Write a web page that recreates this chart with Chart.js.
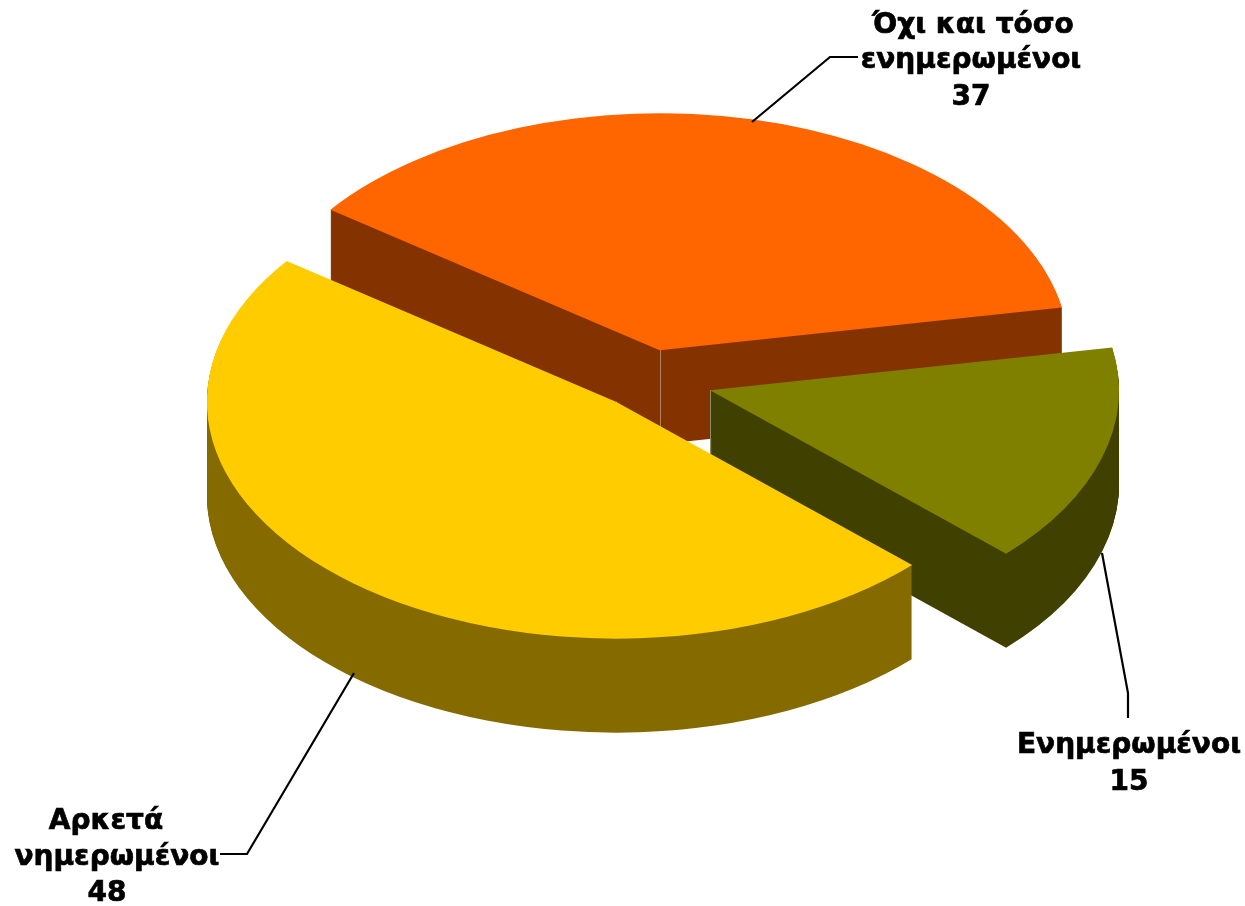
<!DOCTYPE html>
<html lang="el">
<head>
<meta charset="utf-8">
<title>Ενημέρωση</title>
<script src="https://cdn.jsdelivr.net/npm/chart.js@4"></script>
<style>
  html, body { margin: 0; padding: 0; background: #fff; }
  canvas { display: block; }
</style>
</head>
<body>
<canvas id="pie" width="1245" height="906"></canvas>
<script>
// ── Data ───────────────────────────────────────────────
const categories = ['Όχι και τόσο ενημερωμένοι', 'Ενημερωμένοι', 'Αρκετά νημερωμένοι'];
const values = [37, 15, 48];

// ── Style ──────────────────────────────────────────────
const topColors = ['#FF6600', '#808000', '#FFCC00'];
const sideColors = ['#833200', '#404000', '#856A00'];
const edgeColors = ['#B5805F', '#8C8C66', '#B8A050'];
const explode = [0.1265, 0.158, 0.122];   // fraction of the radius

const PIE = { cx: 648, cy: 379.5, radius: 409, squash: 237 / 409, depth: 94 };
const LABEL_FONT = 'bold 28px "DejaVu Sans", Verdana, sans-serif';

const labelLines = [
  ['Όχι και τόσο', 'ενημερωμένοι', String(values[0])],
  ['Ενημερωμένοι', String(values[1])],
  ['Αρκετά', 'νημερωμένοι', String(values[2])],
];
// x centre and y centre of each text line
const labelSpots = [
  [[973, 26], [971, 61], [971, 98]],
  [[1129, 746], [1129, 783]],
  [[106, 822], [117, 858], [107, 894]],
];
const leaders = [
  [[752, 122], [830, 57], [858, 57]],
  [[1102, 553], [1128, 693], [1128, 718]],
  [[354, 673], [247, 854], [220, 854]],
];

function drawSlice(ctx, arc, i, color, drop) {
  const mid = (arc.startAngle + arc.endAngle) / 2;
  const saved = arc.options;
  arc.options = { ...saved, backgroundColor: color, borderColor: color, borderWidth: 0 };
  ctx.save();
  ctx.translate(PIE.cx, PIE.cy + drop);
  ctx.scale(1, PIE.squash);
  ctx.translate(Math.cos(mid) * explode[i] * PIE.radius - arc.x, Math.sin(mid) * explode[i] * PIE.radius - arc.y);
  arc.draw(ctx);
  ctx.restore();
  arc.options = saved;
}

// Side walls: stack the slice on a scratch canvas, then flood it with one colour
// so the stacked antialiased edges don't leave stripes
function drawWalls(ctx, arc, i) {
  const scratch = document.createElement('canvas');
  scratch.width = ctx.canvas.width;
  scratch.height = ctx.canvas.height;
  const sc = scratch.getContext('2d');
  for (let d = PIE.depth; d > 0; d--) drawSlice(sc, arc, i, sideColors[i], d);
  sc.globalCompositeOperation = 'source-in';
  sc.fillStyle = sideColors[i];
  sc.fillRect(0, 0, scratch.width, scratch.height);
  ctx.drawImage(scratch, 0, 0);
}

// Thin light line down the corner where the two cut faces meet
function drawCorner(ctx, arc, i) {
  const mid = (arc.startAngle + arc.endAngle) / 2;
  const x = PIE.cx + Math.cos(mid) * explode[i] * PIE.radius;
  const y = PIE.cy + Math.sin(mid) * explode[i] * PIE.radius * PIE.squash;
  ctx.save();
  ctx.strokeStyle = edgeColors[i];
  ctx.lineWidth = 1;
  ctx.beginPath();
  ctx.moveTo(Math.round(x) + 0.5, y);
  ctx.lineTo(Math.round(x) + 0.5, y + PIE.depth);
  ctx.stroke();
  ctx.restore();
}

const pie3d = {
  id: 'pie3d',
  beforeDatasetsDraw(chart) {
    const ctx = chart.ctx;
    chart.getDatasetMeta(0).data.forEach((arc, i) => {
      drawWalls(ctx, arc, i);
      drawCorner(ctx, arc, i);
      drawSlice(ctx, arc, i, topColors[i], 0);
    });
    return false;
  },
  afterDraw(chart) {
    const ctx = chart.ctx;
    ctx.save();
    ctx.strokeStyle = '#000';
    ctx.lineWidth = 2.2;
    leaders.forEach((pts) => {
      ctx.beginPath();
      pts.forEach((p, k) => (k ? ctx.lineTo(p[0], p[1]) : ctx.moveTo(p[0], p[1])));
      ctx.stroke();
    });
    ctx.fillStyle = '#000';
    ctx.lineWidth = 0.7;
    ctx.font = LABEL_FONT;
    ctx.textAlign = 'center';
    ctx.textBaseline = 'middle';
    labelLines.forEach((lines, i) => {
      lines.forEach((text, k) => {
        const [x, y] = labelSpots[i][k];
        ctx.fillText(text, x, y);
        ctx.strokeText(text, x, y);
      });
    });
    ctx.restore();
  },
};

new Chart(document.getElementById('pie').getContext('2d'), {
  type: 'pie',
  data: {
    labels: categories,
    datasets: [{ data: values, backgroundColor: topColors, borderWidth: 0 }],
  },
  options: {
    responsive: false,
    animation: false,
    rotation: 306.4,
    radius: PIE.radius,
    layout: { padding: 0 },
    plugins: { legend: { display: false }, tooltip: { enabled: false } },
  },
  plugins: [pie3d],
});
</script>
</body>
</html>
